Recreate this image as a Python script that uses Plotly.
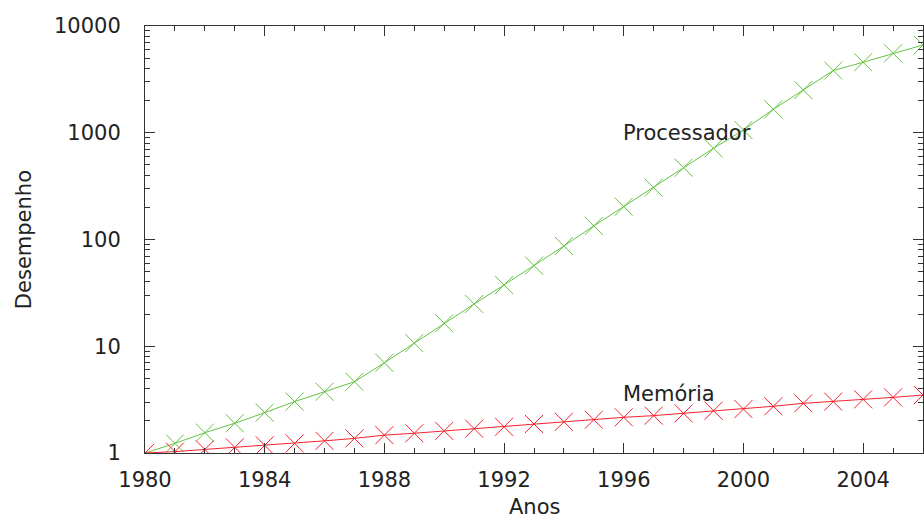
import plotly.graph_objects as go

# Years and relative performance (1980 = 1)
anos = list(range(1980, 2007))
processador = [1.0, 1.23, 1.55, 1.9, 2.39, 3.03, 3.75, 4.65, 7.0, 10.7,
               16.4, 24.9, 37.5, 56.9, 86.9, 134, 203, 306, 471, 715,
               1061, 1660, 2514, 3824, 4576, 5550, 6640]
memoria = [1.0, 1.03, 1.08, 1.13, 1.18, 1.23, 1.30, 1.37, 1.47, 1.53,
           1.61, 1.69, 1.76, 1.87, 1.96, 2.05, 2.16, 2.24, 2.35, 2.49,
           2.58, 2.74, 2.92, 3.03, 3.18, 3.32, 3.49]

x_ticks = [1980, 1984, 1988, 1992, 1996, 2000, 2004]
y_ticks = [1, 10, 100, 1000, 10000]

verde = "#66c244"
vermelho = "#f5222d"
texto = "#222222"
fonte = "DejaVu Sans"

fig = go.Figure()
fig.add_trace(go.Scatter(
    x=anos, y=processador, mode="lines+markers", name="Processador",
    line=dict(color=verde, width=1),
    marker=dict(symbol="x-thin-open", size=18, line=dict(color=verde, width=1)),
))
fig.add_trace(go.Scatter(
    x=anos, y=memoria, mode="lines+markers", name="Memória",
    line=dict(color=vermelho, width=1),
    marker=dict(symbol="x-thin-open", size=18, line=dict(color=vermelho, width=1)),
))

# Series labels placed next to the curves
fig.add_annotation(x=1996, y=3, xref="x", yref="y", text="Processador",
                   showarrow=False, xanchor="left", yanchor="middle", xshift=-3,
                   font=dict(family=fonte, size=21, color=texto))
fig.add_annotation(x=1996, y=0.553, xref="x", yref="y", text="Memória",
                   showarrow=False, xanchor="left", yanchor="middle", xshift=-3,
                   font=dict(family=fonte, size=21, color=texto))

# Axis titles
fig.add_annotation(x=0.5, y=-0.126, xref="paper", yref="paper", text="Anos",
                   showarrow=False, xanchor="center", yanchor="middle",
                   font=dict(family=fonte, size=21, color=texto))
fig.add_annotation(x=-0.156, y=0.5, xref="paper", yref="paper", text="Desempenho",
                   showarrow=False, xanchor="center", yanchor="middle", textangle=-90,
                   font=dict(family=fonte, size=21, color=texto))

eixo = dict(showline=True, linecolor="#333333", linewidth=1, mirror="allticks",
            ticks="inside", tickcolor="#333333", ticklen=10, tickwidth=1,
            showgrid=False, zeroline=False, automargin=False,
            tickfont=dict(family=fonte, size=21, color=texto))

fig.update_xaxes(range=[1980, 2006], tickvals=x_ticks,
                 ticktext=[str(v) for v in x_ticks],
                 ticklabelposition="outside", ticklabelstandoff=8,
                 minor=dict(dtick=1, ticks="inside", ticklen=5,
                            tickcolor="#333333", showgrid=False),
                 **eixo)
fig.update_yaxes(type="log", range=[0, 4], tickvals=y_ticks,
                 ticktext=[str(v) for v in y_ticks],
                 ticklabelposition="outside", ticklabelstandoff=19,
                 minor=dict(tickvals=[m * 10 ** e for e in range(4) for m in range(2, 10)],
                            ticks="inside", ticklen=5, tickcolor="#333333",
                            showgrid=False),
                 **eixo)

fig.update_layout(
    width=924, height=520,
    margin=dict(l=145, r=1, t=26, b=67),
    plot_bgcolor="white", paper_bgcolor="white",
    showlegend=False,
    font=dict(family=fonte, color=texto),
)

fig.write_html("out.html")
